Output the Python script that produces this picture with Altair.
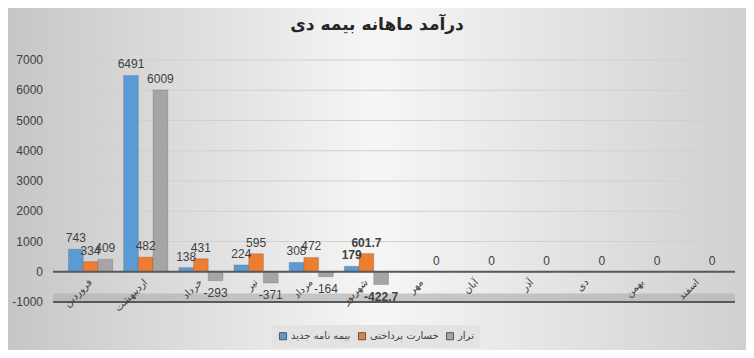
import altair as alt
import pandas as pd

months = ["فروردین", "اردیبهشت", "خرداد", "تیر", "مرداد", "شهریور",
          "مهر", "آبان", "آذر", "دی", "بهمن", "اسفند"]
series_names = ["بیمه نامه جدید", "خسارت پرداختی", "تراز"]
new_policy = [743, 6491, 138, 224, 308, 179, 0, 0, 0, 0, 0, 0]
paid_loss = [334, 482, 431, 595, 472, 601.7, 0, 0, 0, 0, 0, 0]
balance = [409, 6009, -293, -371, -164, -422.7, 0, 0, 0, 0, 0, 0]
colors = ["#5b9bd5", "#ed7d31", "#a5a5a5"]
bold_month = "شهریور"
title_text = "درآمد ماهانه بیمه دی"
y_ticks = [-1000, 0, 1000, 2000, 3000, 4000, 5000, 6000, 7000]

rows = []
for s, vals in zip(series_names, [new_policy, paid_loss, balance]):
    for m, v in zip(months, vals):
        if v == 0:
            lab = "0" if s == "تراز" else ""
        elif float(v).is_integer():
            lab = str(int(v))
        else:
            lab = f"{v:.1f}"
        rows.append({"month": m, "series": s, "value": v, "label": lab,
                     "bold": m == bold_month})
df = pd.DataFrame(rows)
mdf = pd.DataFrame({"month": months, "ypos": [-300] * len(months)})
tdf = pd.DataFrame({"tick": y_ticks, "tlabel": [str(t) for t in y_ticks]})

W, H = 682, 242
PL, PT, PR, PB = 45, 52, 11, 48
xscale = alt.Scale(domain=months, paddingInner=0.2, paddingOuter=0.28)
yscale = alt.Scale(domain=[-1000, 7000], nice=False)
cscale = alt.Scale(domain=series_names, range=colors)
xoff = alt.XOffset("series:N", sort=series_names, scale=alt.Scale(domain=series_names))
X = alt.X("month:N", scale=xscale, axis=None, sort=months)

bg = alt.Chart(pd.DataFrame({"a": [0]})).mark_rect(
    color=alt.Gradient(gradient="linear", x1=0, x2=1, y1=0, y2=0,
                       stops=[alt.GradientStop(color="#c6c6c6", offset=0),
                              alt.GradientStop(color="#f6f6f6", offset=0.5),
                              alt.GradientStop(color="#d0d0d0", offset=1)])
).encode(x=alt.value(-PL), x2=alt.value(W + PR), y=alt.value(-PT), y2=alt.value(H + PB))

title_mark = alt.Chart(pd.DataFrame({"t": [title_text]})).mark_text(
    fontSize=17, font="DejaVu Sans", fontWeight="bold", color="#262626"
).encode(x=alt.value(377 - 8 - PL), y=alt.value(25 - 8 - PT), text="t:N")

grid = alt.Chart(tdf).mark_rule(color="#d0d0d0", strokeWidth=1).encode(
    y=alt.Y("tick:Q", scale=yscale, axis=None)
)
tick_labels = alt.Chart(tdf).mark_text(
    align="right", fontSize=12, color="#404040", font="Liberation Sans"
).encode(
    y=alt.Y("tick:Q", scale=yscale, axis=None),
    x=alt.value(-10),
    text="tlabel:N",
)

floor_band = alt.Chart(pd.DataFrame({"lo": [-1000], "hi": [-720]})).mark_rect(
    color="#b4b4b4", opacity=0.7
).encode(
    x=alt.value(0), x2=alt.value(W),
    y=alt.Y("lo:Q", scale=yscale, axis=None), y2="hi:Q",
)

base = alt.Chart(df)

bars = base.mark_bar(stroke="#505050", strokeWidth=0.5, strokeOpacity=0.5).encode(
    x=X,
    xOffset=xoff,
    y=alt.Y("value:Q", scale=yscale, axis=None),
    y2=alt.datum(0),
    color=alt.Color("series:N", scale=cscale,
                    legend=alt.Legend(title=None, orient="none", legendX=219, legendY=265,
                                      direction="horizontal",
                                      symbolType="square", symbolSize=50,
                                      labelFontSize=10, labelColor="#404040",
                                      fillColor="#e3e3e3", padding=6,
                                      labelFont="DejaVu Sans", symbolStrokeColor="#555",
                                      symbolStrokeWidth=1, columnPadding=5,
                                      labelOffset=3, zindex=1)),
)

text_enc = dict(
    x=alt.X("month:N", scale=xscale, sort=months),
    xOffset=xoff,
    y=alt.Y("value:Q", scale=yscale, axis=None),
    text="label:N",
)


def label_layer(cond, dy, dx, weight):
    return base.transform_filter(cond).mark_text(
        dy=dy, dx=dx, fontSize=12, color="#404040", font="Liberation Sans",
        fontWeight=weight
    ).encode(**text_enc)


pos_norm = label_layer("datum.value >= 0 && !datum.bold", -11, 0, "normal")
pos_bold = label_layer("datum.value >= 0 && datum.bold", -11, 0, "bold")
neg_norm = label_layer("datum.value < 0 && !datum.bold", 12, 0, "normal")
neg_bold = label_layer("datum.value < 0 && datum.bold", 12, 0, "bold")

floor_rule = alt.Chart(pd.DataFrame({"y": [0, -1000]})).mark_rule(
    color="#595959", strokeWidth=2
).encode(y=alt.Y("y:Q", scale=yscale, axis=None))

month_labels = alt.Chart(mdf).mark_text(
    angle=315, fontSize=10, color="#404040", font="DejaVu Sans", align="right"
).encode(
    x=alt.X("month:N", scale=xscale, sort=months),
    y=alt.Y("ypos:Q", scale=yscale, axis=None),
    text="month:N",
)

chart = alt.layer(bg, title_mark, grid, tick_labels, floor_band, bars, floor_rule,
                  pos_norm, pos_bold, neg_norm, neg_bold, month_labels).properties(
    width=W, height=H,
    autosize=alt.AutoSizeParams(type="none"),
    padding={"left": PL, "top": PT, "right": PR, "bottom": PB},
    background="#dedede",
).configure_view(stroke=None)

chart.save("out.html", embed_options={"renderer": "svg", "actions": False})
